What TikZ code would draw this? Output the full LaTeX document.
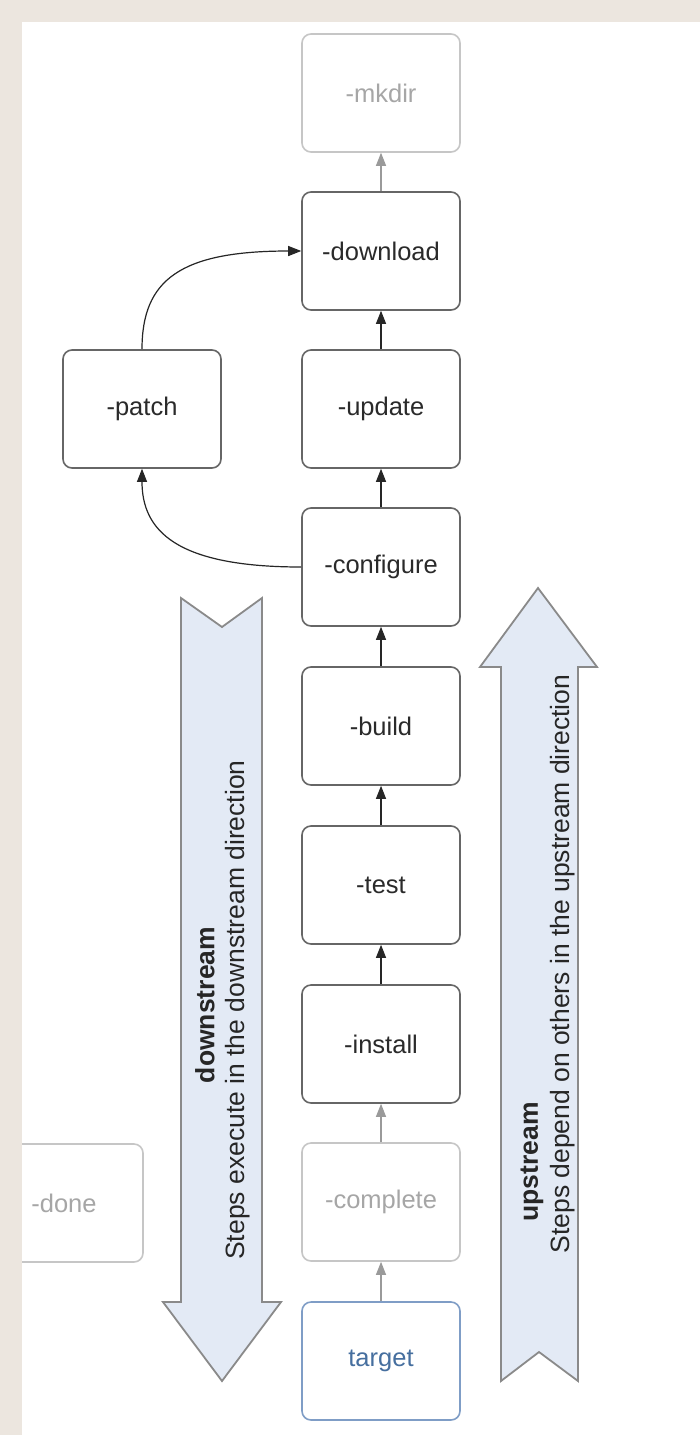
\documentclass[tikz,border=0pt]{standalone}
\usepackage{fontspec}
\setmainfont{Liberation Sans}
\usetikzlibrary{arrows.meta}
\definecolor{beige}{HTML}{ECE6DF}
\definecolor{boxline}{HTML}{666666}
\definecolor{boxtext}{HTML}{2A2A2A}
\definecolor{fadeline}{HTML}{C6C6C6}
\definecolor{fadetext}{HTML}{A6A6A6}
\definecolor{tgtline}{HTML}{7F9DC6}
\definecolor{tgttext}{HTML}{466F9F}
\definecolor{arrfill}{HTML}{E3EAF5}
\definecolor{arrline}{HTML}{8A8A8A}
\definecolor{fadearrow}{HTML}{9A9A9A}
\tikzset{
  stepbox/.style={draw=boxline, line width=1.6pt, rounded corners=9pt, fill=white,
    minimum width=158pt, minimum height=118pt, inner sep=0pt,
    text=boxtext, font=\fontsize{25.5}{30}\selectfont},
  fadebox/.style={stepbox, draw=fadeline, text=fadetext},
  tgtbox/.style={stepbox, draw=tgtline, text=tgttext},
  dep/.style={draw=black!85, line width=1.2pt, -{Triangle[length=13pt,width=10pt]}},
  fadedep/.style={dep, draw=fadearrow, fill=fadearrow},
  bigarrow/.style={draw=arrline, fill=arrfill, line width=1.8pt, line join=miter},
  arrowtext/.style={rotate=90, text=black!85, font=\fontsize{26.5}{31}\selectfont, inner sep=0pt}
}
\begin{document}
\begin{tikzpicture}[x=1pt, y=-1pt]
\useasboundingbox (0,0) rectangle (700,1435);
\fill[beige] (0,0) rectangle (700,1435);
\fill[white] (22,22) rectangle (700,1435);

% big direction arrows
\path[bigarrow] (181,598) -- (222,627) -- (262,598) -- (262,1302) -- (281,1302)
  -- (222,1381) -- (163,1302) -- (181,1302) -- cycle;
\path[bigarrow] (538,588) -- (597,667) -- (578,667) -- (578,1381) -- (539,1352)
  -- (501,1381) -- (501,667) -- (480,667) -- cycle;
\node[arrowtext, font=\fontsize{26.5}{31}\selectfont\bfseries] (dsk) at (205,1005) {downstream};
\node[arrowtext] (dsl) at (238,1010) {Steps execute in the downstream direction};
\node[arrowtext, font=\fontsize{26.5}{31}\selectfont\bfseries] (usk) at (532,1162) {upstream};
\node[arrowtext] (usl) at (563,964) {Steps depend on others in the upstream direction};

% step boxes
\node[fadebox] (mkdir) at (381,93) {-mkdir};
\node[stepbox] (download) at (381,251) {-download};
\node[stepbox] (update) at (381,409) {-update};
\node[stepbox] (configure) at (381,567) {-configure};
\node[stepbox] (build) at (381,726) {-build};
\node[stepbox] (test) at (381,885) {-test};
\node[stepbox] (install) at (381,1044) {-install};
\node[fadebox] (complete) at (381,1202) {-complete};
\node[tgtbox] (target) at (381,1361) {target};
\node[stepbox] (patch) at (142,409) {-patch};
\begin{scope}
\clip (22,22) rectangle (700,1435);
\node[fadebox] (done) at (64,1203) {-done};
\end{scope}

% dependencies
\draw[fadedep] (download) -- (mkdir);
\draw[dep] (update) -- (download);
\draw[dep] (configure) -- (update);
\draw[dep] (build) -- (configure);
\draw[dep] (test) -- (build);
\draw[dep] (install) -- (test);
\draw[fadedep] (complete) -- (install);
\draw[fadedep] (target) -- (complete);
\draw[dep] (configure.west) .. controls (175,567) and (142,530) .. (patch.south);
\draw[dep] (patch.north) .. controls (142,280) and (180,251) .. (download.west);
\end{tikzpicture}
\end{document}
